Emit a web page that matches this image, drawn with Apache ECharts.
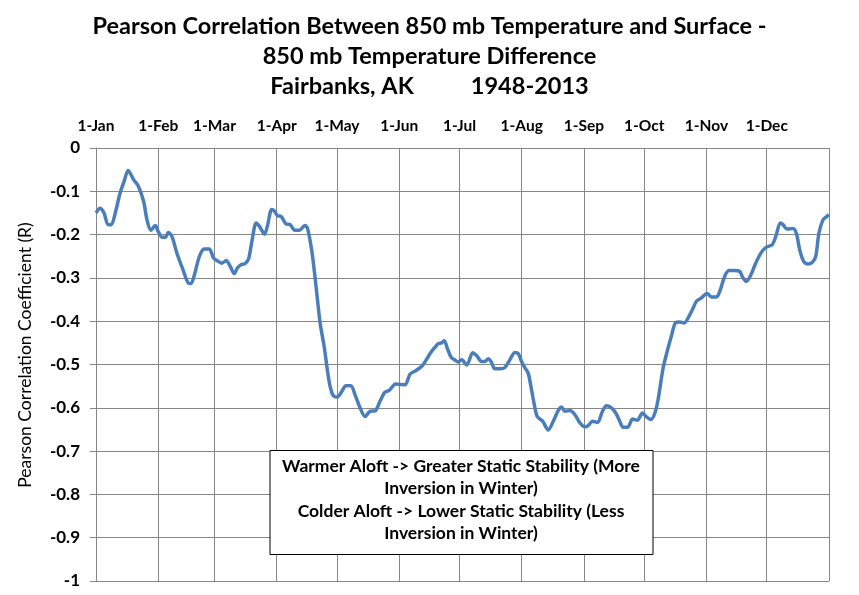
<!DOCTYPE html>
<html>
<head>
    <meta charset="utf-8">
    <title>ECharts</title>
    <script src="https://cdn.jsdelivr.net/npm/echarts@6/dist/echarts.min.js"></script>
    <style>
        html, body { margin: 0; padding: 0; background: #fff; }
    </style>
</head>
<body>
    <div id="main" style="width: 859px;height:595px;"></div>
    <script>
        // day of year (0 = 1-Jan) and smoothed Pearson R
        var days = [
            0, 2, 4, 6, 7.6, 9.6, 12, 14, 16, 17, 18.7, 21, 23.7, 25.4, 27.4, 29.5,
            31, 33, 34.6, 36, 37.8, 40.3, 43.3, 46, 47.3, 49, 51.5, 53.9, 56.4, 58.5,
            61, 62.7, 64.8, 66.8, 68.8, 70.4, 72, 74.3, 76, 77.6, 79.8, 81.4, 83.9, 85.5, 87.5, 88.9,
            90.3, 92.2, 94.5, 96.7, 99, 101.3, 104, 105.3, 107.5, 109.1, 111.6, 113.6, 115.2, 116.6, 118.2,
            120.2, 122.4, 124.5, 126.9, 129, 131.5, 134, 136.5, 139, 141.4, 143.9, 146, 149.2,
            151.4, 153.9, 156.4, 159.4, 162.2, 163.8, 166.3, 168.3, 170.4, 172.1, 173.4, 174.9, 176.8, 178.8, 180.4,
            182.1, 184.6, 187.6, 189.6, 192, 193.7, 195.3, 196.7, 198.7, 201.1, 203.6, 206.1, 208.6, 210.3,
            211.9, 213.6, 215.2, 216.6, 218.1, 219.7, 222.4, 225.2, 227.7, 230.2, 231.8, 233.5, 236, 238.5, 241,
            243.4, 245.1, 247.3, 249.7, 252.2, 254.2, 256.4, 258.8, 260.8, 262.5, 264.7, 267.2, 269.5, 272.1,
            274.1, 276.3, 278.3, 279.9, 282.4, 284.4, 286.6, 288.7, 290.7, 292.9, 294.8, 297, 299, 301.5,
            304.3, 306.5, 309, 310.6, 313.1, 315.2, 318.1, 320.5, 322.2, 323.9, 326, 328.5, 331.3, 333.8,
            336.8, 338.5, 340.8, 342.1, 344.1, 347.1, 348.8, 350.4, 352.4, 354.5, 356.7, 358.4, 360, 362, 363.7, 365
        ];
        var corr = [
            -0.150, -0.139, -0.150, -0.177, -0.177, -0.150, -0.104, -0.077, -0.052, -0.058, -0.073, -0.087, -0.123, -0.166, -0.190, -0.179,
            -0.193, -0.206, -0.206, -0.195, -0.204, -0.243, -0.281, -0.312, -0.313, -0.293, -0.250, -0.233, -0.233, -0.254,
            -0.262, -0.266, -0.260, -0.273, -0.290, -0.277, -0.270, -0.267, -0.256, -0.216, -0.173, -0.181, -0.199, -0.177, -0.142, -0.146,
            -0.156, -0.158, -0.175, -0.177, -0.190, -0.190, -0.179, -0.185, -0.239, -0.300, -0.404, -0.458, -0.512, -0.551, -0.572,
            -0.575, -0.562, -0.549, -0.549, -0.570, -0.600, -0.620, -0.608, -0.607, -0.585, -0.564, -0.560, -0.545,
            -0.546, -0.547, -0.522, -0.514, -0.504, -0.494, -0.475, -0.463, -0.452, -0.450, -0.445, -0.462, -0.483, -0.490, -0.494,
            -0.489, -0.501, -0.473, -0.480, -0.493, -0.493, -0.487, -0.493, -0.510, -0.510, -0.507, -0.489, -0.472, -0.475,
            -0.493, -0.508, -0.520, -0.551, -0.589, -0.620, -0.631, -0.651, -0.631, -0.606, -0.598, -0.608, -0.606, -0.616, -0.635,
            -0.644, -0.641, -0.631, -0.634, -0.608, -0.595, -0.599, -0.612, -0.631, -0.645, -0.645, -0.626, -0.629, -0.612,
            -0.621, -0.627, -0.612, -0.581, -0.508, -0.470, -0.433, -0.403, -0.402, -0.404, -0.393, -0.373, -0.354, -0.346,
            -0.336, -0.344, -0.344, -0.331, -0.296, -0.283, -0.283, -0.285, -0.300, -0.308, -0.294, -0.266, -0.241, -0.229,
            -0.223, -0.204, -0.173, -0.177, -0.187, -0.186, -0.198, -0.235, -0.262, -0.268, -0.264, -0.250, -0.196, -0.166, -0.159, -0.154
        ];
        var monthStarts = [0, 31, 59, 90, 120, 151, 181, 212, 243, 273, 304, 334];
        var monthLabels = ['1-Jan', '1-Feb', '1-Mar', '1-Apr', '1-May', '1-Jun',
            '1-Jul', '1-Aug', '1-Sep', '1-Oct', '1-Nov', '1-Dec'];
        var noteLines = [
            'Warmer Aloft -> Greater Static Stability (More',
            'Inversion in Winter)',
            'Colder Aloft -> Lower Static Stability (Less',
            'Inversion in Winter)'
        ];

        var seriesData = days.map(function (d, i) { return [d, corr[i]]; });
        var FONT = 'Lato';
        var GRID = '#868686';

        var chartDom = document.getElementById('main');
        var myChart = echarts.init(chartDom);
        var option;

        option = {
            animation: false,
            textStyle: { fontFamily: FONT },
            title: {
                text: 'Pearson Correlation Between 850 mb Temperature and Surface -\n850 mb Temperature Difference\nFairbanks, AK          1948-2013',
                left: 'center',
                top: 6,
                textStyle: {
                    fontFamily: FONT,
                    fontSize: 23.5,
                    fontWeight: 'bold',
                    lineHeight: 30,
                    color: '#000'
                }
            },
            grid: {
                left: 96,
                right: 30,
                top: 148,
                bottom: 14
            },
            xAxis: {
                type: 'value',
                position: 'top',
                min: 0,
                max: 365,
                axisLine: { show: true, lineStyle: { color: GRID } },
                axisTick: { show: false, customValues: monthStarts.concat([365]) },
                splitLine: { show: true, lineStyle: { color: GRID, width: 1 } },
                axisLabel: {
                    customValues: monthStarts,
                    formatter: function (v) {
                        return monthLabels[monthStarts.indexOf(v)] || '';
                    },
                    fontFamily: FONT,
                    fontSize: 15.5,
                    fontWeight: 'bold',
                    color: '#000',
                    margin: 14
                }
            },
            yAxis: {
                type: 'value',
                min: -1,
                max: 0,
                interval: 0.1,
                name: 'Pearson Correlation Coefficient (R)',
                nameLocation: 'middle',
                nameGap: 62,
                nameTextStyle: { fontFamily: FONT, fontSize: 17.5, color: '#000', padding: [0, 0, 0, 19] },
                axisLine: { show: true, lineStyle: { color: GRID } },
                axisTick: { show: true, length: 6, lineStyle: { color: GRID } },
                splitLine: { show: true, lineStyle: { color: GRID, width: 1 } },
                axisLabel: {
                    formatter: function (v) { return String(+v.toFixed(1)); },
                    fontFamily: FONT,
                    fontSize: 17,
                    fontWeight: 'bold',
                    color: '#000',
                    margin: 16
                }
            },
            series: [
                {
                    type: 'line',
                    data: seriesData,
                    smooth: 0.3,
                    showSymbol: false,
                    lineStyle: { color: '#4a7ebb', width: 3.5 },
                    z: 3
                }
            ],
            graphic: [
                {
                    type: 'rect',
                    left: 269.5,
                    top: 450,
                    shape: { width: 383, height: 104 },
                    style: { fill: '#fff', stroke: '#000', lineWidth: 1 },
                    z: 10
                },
                {
                    type: 'text',
                    x: 461,
                    y: 455,
                    style: {
                        text: noteLines.join('\n'),
                        align: 'center',
                        verticalAlign: 'top',
                        fontFamily: FONT,
                        fontSize: 17.5,
                        fontWeight: 'bold',
                        lineHeight: 22.5,
                        fill: '#000'
                    },
                    z: 11
                }
            ]
        };

        option && myChart.setOption(option);
    </script>
</body>
</html>
